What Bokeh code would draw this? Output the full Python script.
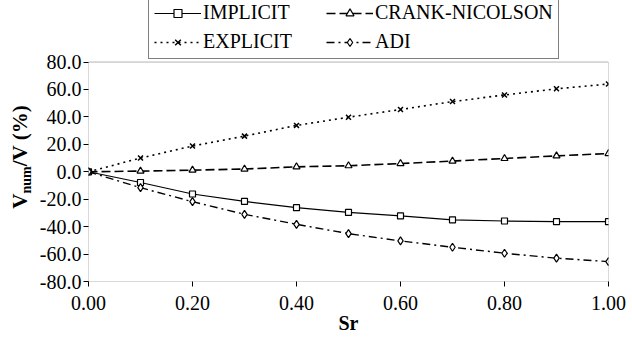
from bokeh.plotting import figure
from bokeh.models import FixedTicker, NumeralTickFormatter, Legend, Range1d, Div, BoxAnnotation
from bokeh.layouts import row
from bokeh.embed import file_html
from bokeh.resources import INLINE

sr = [0.0, 0.1, 0.2, 0.3, 0.4, 0.5, 0.6, 0.7, 0.8, 0.9, 1.0]
implicit = [0.0, -7.8, -16.2, -21.6, -26.2, -29.6, -32.2, -35.0, -35.9, -36.4, -36.4]
explicit = [0.0, 10.0, 18.8, 26.0, 33.8, 39.8, 45.4, 51.2, 56.0, 60.5, 64.0]
crank = [0.0, 0.5, 1.2, 2.0, 3.6, 4.4, 6.0, 7.8, 9.7, 11.6, 13.3]
adi = [0.0, -11.6, -21.8, -31.0, -38.3, -45.1, -50.4, -55.0, -59.4, -63.0, -65.5]
series_names = ["IMPLICIT", "EXPLICIT", "CRANK-NICOLSON", "ADI"]

x_ticks = [0.0, 0.2, 0.4, 0.6, 0.8, 1.0]
y_ticks = [-80, -60, -40, -20, 0, 20, 40, 60, 80]

FONT = "Liberation Serif"

# layout (pixels)
H = 336
BORDER_BOTTOM = 53
AXES_H = 221          # height of the boxed plotting area
frame_h = H - BORDER_BOTTOM
y_lo, y_hi = y_ticks[0], y_ticks[-1]
y_top = y_lo + (y_hi - y_lo) * frame_h / AXES_H

styles = [
    dict(line=dict(line_width=1.2), marker=dict(marker="square", size=6, fill_color="white", line_width=1.2)),
    dict(line=dict(line_width=1.6, line_dash="2 4"), marker=dict(marker="x", size=7, line_width=1.5)),
    dict(line=dict(line_width=1.6, line_dash="9 4"), marker=dict(marker="triangle", size=7, fill_color="white", line_width=1.2)),
    dict(line=dict(line_width=1.4, line_dash="8 4 2 4"), marker=dict(marker="diamond", size=8, fill_color="white", line_width=1.2)),
]

p = figure(width=590, height=H, output_backend="svg", toolbar_location=None,
           x_range=Range1d(x_ticks[0], x_ticks[-1]), y_range=Range1d(y_lo, y_top),
           min_border_left=51, min_border_right=18, min_border_top=0, min_border_bottom=BORDER_BOTTOM)
p.background_fill_color = "white"
p.border_fill_color = "white"
p.outline_line_color = None
p.xgrid.visible = False
p.ygrid.visible = False

for ax in (p.xaxis[0], p.yaxis[0]):
    ax.axis_line_color = None
    ax.major_tick_in = 0
    ax.major_tick_out = 5
    ax.minor_tick_line_color = None
    ax.major_tick_line_color = "black"
    ax.major_label_text_font = FONT
    ax.major_label_text_font_size = "20px"
    ax.major_label_text_color = "black"

p.xaxis.ticker = FixedTicker(ticks=x_ticks)
p.yaxis.ticker = FixedTicker(ticks=y_ticks)
p.xaxis.formatter = NumeralTickFormatter(format="0.00")
p.yaxis.formatter = NumeralTickFormatter(format="0.0")
p.xaxis.major_label_standoff = 9
p.yaxis.major_label_standoff = 2
p.xaxis.axis_label = "Sr"
p.xaxis.axis_label_text_font = FONT
p.xaxis.axis_label_text_font_style = "bold"
p.xaxis.axis_label_text_font_size = "20px"
p.xaxis.axis_label_standoff = -1
p.xaxis.axis_label_text_color = "black"

# box around the plotting area
p.add_layout(BoxAnnotation(left=x_ticks[0], right=x_ticks[-1], bottom=y_lo, top=y_hi,
                           fill_alpha=0, line_color="black", line_width=1))

items = []
for name, ys, st in zip(series_names, [implicit, explicit, crank, adi], styles):
    rl = p.line(sr, ys, line_color="black", **st["line"])
    rs = p.scatter(sr, ys, line_color="black", **st["marker"])
    items.append((name, [rl, rs]))

legend = Legend(items=items, location=(60, AXES_H + 1), ncols=2)
legend.label_text_font = FONT
legend.label_text_font_size = "20px"
legend.label_text_color = "black"
legend.glyph_width = 47
legend.glyph_height = 20
legend.label_height = 20
legend.label_width = 117
legend.label_standoff = 2
legend.spacing = 6
legend.padding = 5
legend.margin = 0
legend.border_line_color = "black"
legend.border_line_width = 1
legend.background_fill_alpha = 1
p.add_layout(legend, "center")

ylabel_html = (
    '<div style="position:absolute; left:18px; top:152px; '
    'transform:translate(-50%,-50%) rotate(-90deg); white-space:nowrap; '
    "font-family:'Liberation Serif'; font-weight:bold; font-size:21px; "
    'line-height:21px; color:black;">'
    'V<sub style="font-size:14px; vertical-align:-4px;">num</sub>/V (%)</div>'
)
ylab = Div(text=ylabel_html, width=26, height=H,
           styles={"position": "relative", "overflow": "visible"})

layout = row(ylab, p, spacing=0)

open("out.html", "w").write(file_html(layout, INLINE))
